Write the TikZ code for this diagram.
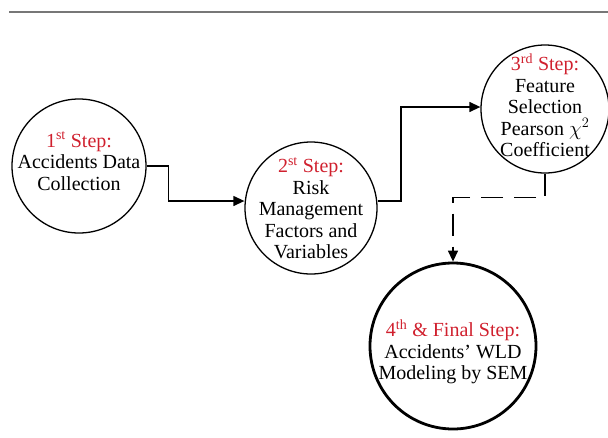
\documentclass[tikz,border=0pt]{standalone}
\usepackage{fontspec}
\setmainfont{Liberation Serif}
\usetikzlibrary{shapes,arrows.meta}
\definecolor{stepred}{HTML}{D0202E}
\definecolor{rulegray}{HTML}{777777}

\begin{document}
\begin{tikzpicture}[%
    x=1pt, y=-1pt,                          % work in reference pixels
    >={Triangle[length=11pt,width=10pt]},   % filled arrow heads
    ]
% -------------------------------------------------
% Styles for the step circles, their texts and the connectors
\tikzset{
  base/.style={draw, circle, inner sep=0pt},
  stepnode/.style={base, line width=1.3pt},
  finalnode/.style={base, line width=2.8pt},
  txt/.style={align=center, inner sep=0pt, font=\fontsize{20}{21.5}\selectfont},
  norm/.style={->, line width=1.3pt},
  dsh/.style={->, line width=1.3pt, dash pattern=on 22pt off 11pt}
}
\newcommand{\stepname}[2]{\textcolor{stepred}{#1\textsuperscript{#2} Step:}}
\useasboundingbox (0,0) rectangle (608,437);
\draw[rulegray, line width=2pt] (9,12) -- (608,12);
% -------------------------------------------------
% Start by placing the circles, then their texts
\node [stepnode, minimum size=134pt] (collect) at (79,166) {};
\node [stepnode, minimum size=132pt] (risk) at (311,208) {};
\node [stepnode, minimum size=128pt] (feature) at (545,109) {};
\node [finalnode, minimum size=166pt] (model) at (453,346) {};

\node [txt] (collect-t) at (79,161)
  {\stepname{1}{st}\\Accidents Data\\Collection};
\node [txt] (risk-t) at (311,208)
  {\stepname{2}{st}\\Risk\\Management\\Factors and\\Variables};
\node [txt] (feature-t) at (545,105)
  {\stepname{3}{rd}\\Feature\\Selection\\Pearson $\chi^2$\\Coefficient};
\node [txt] (model-t) at (453,352)
  {\textcolor{stepred}{4\textsuperscript{th} \& Final Step:}\\Accidents' WLD\\Modeling by SEM};

% Connectors
\draw[norm] (collect.east) -- ++(22,0) |- (risk.west |- 0,201);
\draw[norm] (risk.east |- 0,201) -- (401,201) |- (feature.west |- 0,107);
\draw[dsh] (feature.south) -- ++(0,24) -| (model.north);

% -------------------------------------------------
\end{tikzpicture}
\end{document}
